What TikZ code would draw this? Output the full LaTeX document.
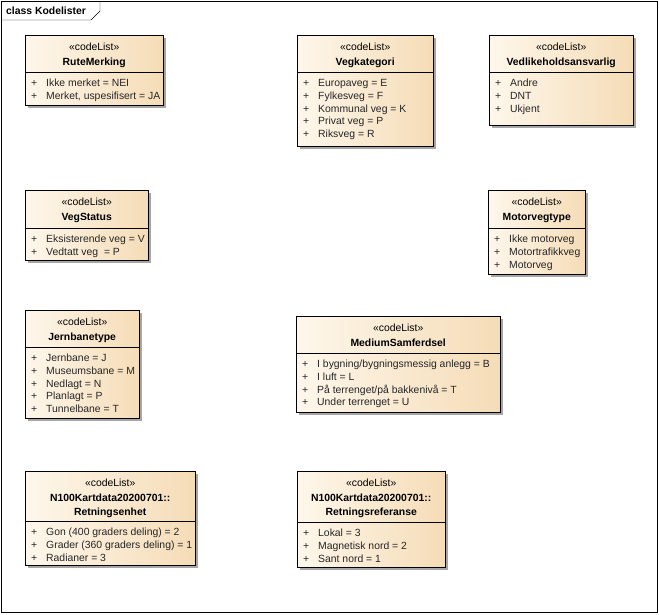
\documentclass[tikz,border=0pt]{standalone}
\usepackage{fontspec}
\setmainfont{Liberation Sans}
\usetikzlibrary{positioning,shadows}

\definecolor{clsleft}{RGB}{254,247,235}
\definecolor{clsright}{RGB}{245,220,183}
\newcommand{\plusattr}{\strut\makebox[15pt][l]{+}}

\tikzset{
  cbox/.style={rectangle, draw=black, anchor=north west, inner sep=0,
    left color=clsleft, right color=clsright,
    drop shadow={shadow xshift=3pt, shadow yshift=-3pt, fill=black!35, opacity=1}},
  chead/.style={inner sep=0, align=center, font=\fontsize{10.4}{14.3}\selectfont},
  cattr/.style={inner sep=0, align=left, text=black!85, font=\fontsize{10.4}{12.6}\selectfont}
}

\begin{document}
\begin{tikzpicture}[x=1pt, y=-1pt]
  \useasboundingbox (0,0) rectangle (659,614);
  % frame
  \draw (1.5,1.5) rectangle (657.5,612.5);
  \draw (1.5,20) -- (91,20) -- (100,11) -- (100,1.5);
  \node[anchor=west, inner sep=0, font=\fontsize{10.4}{12}\selectfont\bfseries] (title) at (6,11) {class Kodelister};

  % RuteMerking
  \node[cbox, minimum width=138, minimum height=70] (rute) at (25,35) {};
  \coordinate (rute-s) at (25,72);
  \draw (rute-s) -- (rute-s -| rute.east);
  \node[chead, below=5.6pt of rute.north] (rute-h) {\strut«codeList»\\\textbf{RuteMerking}};
  \node[cattr, below right=5.9pt and 6pt of rute-s] (rute-a) {\plusattr Ikke merket = NEI\\\plusattr Merket, uspesifisert = JA};

  % Vegkategori
  \node[cbox, minimum width=136, minimum height=111] (vegkat) at (297,35) {};
  \coordinate (vegkat-s) at (297,72);
  \draw (vegkat-s) -- (vegkat-s -| vegkat.east);
  \node[chead, below=5.6pt of vegkat.north] (vegkat-h) {\strut«codeList»\\\textbf{Vegkategori}};
  \node[cattr, below right=5.9pt and 6pt of vegkat-s] (vegkat-a) {\plusattr Europaveg = E\\\plusattr Fylkesveg = F\\\plusattr Kommunal veg = K\\\plusattr Privat veg = P\\\plusattr Riksveg = R};

  % Vedlikeholdsansvarlig
  \node[cbox, minimum width=144, minimum height=90] (vedlik) at (489,35) {};
  \coordinate (vedlik-s) at (489,72);
  \draw (vedlik-s) -- (vedlik-s -| vedlik.east);
  \node[chead, below=5.6pt of vedlik.north] (vedlik-h) {\strut«codeList»\\\textbf{Vedlikeholdsansvarlig}};
  \node[cattr, below right=5.9pt and 6pt of vedlik-s] (vedlik-a) {\plusattr Andre\\\plusattr DNT\\\plusattr Ukjent};

  % VegStatus
  \node[cbox, minimum width=123, minimum height=70] (vegstatus) at (25,190) {};
  \coordinate (vegstatus-s) at (25,228);
  \draw (vegstatus-s) -- (vegstatus-s -| vegstatus.east);
  \node[chead, below=5.6pt of vegstatus.north] (vegstatus-h) {\strut«codeList»\\\textbf{VegStatus}};
  \node[cattr, below right=5.9pt and 6pt of vegstatus-s] (vegstatus-a) {\plusattr Eksisterende veg = V\\\plusattr Vedtatt veg\ \ = P};

  % Motorvegtype
  \node[cbox, minimum width=97, minimum height=84] (motorveg) at (488,190) {};
  \coordinate (motorveg-s) at (488,228);
  \draw (motorveg-s) -- (motorveg-s -| motorveg.east);
  \node[chead, below=5.6pt of motorveg.north] (motorveg-h) {\strut«codeList»\\\textbf{Motorvegtype}};
  \node[cattr, below right=5.9pt and 6pt of motorveg-s] (motorveg-a) {\plusattr Ikke motorveg\\\plusattr Motortrafikkveg\\\plusattr Motorveg};

  % Jernbanetype
  \node[cbox, minimum width=114, minimum height=108] (jernbane) at (25,310) {};
  \coordinate (jernbane-s) at (25,347);
  \draw (jernbane-s) -- (jernbane-s -| jernbane.east);
  \node[chead, below=5.6pt of jernbane.north] (jernbane-h) {\strut«codeList»\\\textbf{Jernbanetype}};
  \node[cattr, below right=5.9pt and 6pt of jernbane-s] (jernbane-a) {\plusattr Jernbane = J\\\plusattr Museumsbane = M\\\plusattr Nedlagt = N\\\plusattr Planlagt = P\\\plusattr Tunnelbane = T};

  % MediumSamferdsel
  \node[cbox, minimum width=204, minimum height=96] (medium) at (296,316) {};
  \coordinate (medium-s) at (296,353);
  \draw (medium-s) -- (medium-s -| medium.east);
  \node[chead, below=5.6pt of medium.north] (medium-h) {\strut«codeList»\\\textbf{MediumSamferdsel}};
  \node[cattr, below right=5.9pt and 6pt of medium-s] (medium-a) {\plusattr I bygning/bygningsmessig anlegg = B\\\plusattr I luft = L\\\plusattr På terrenget/på bakkenivå = T\\\plusattr Under terrenget = U};

  % Retningsenhet
  \node[cbox, minimum width=170, minimum height=94] (renhet) at (25,471) {};
  \coordinate (renhet-s) at (25,521);
  \draw (renhet-s) -- (renhet-s -| renhet.east);
  \node[chead, below=5.6pt of renhet.north] (renhet-h) {\strut«codeList»\\\textbf{N100Kartdata20200701::}\\\textbf{Retningsenhet}};
  \node[cattr, below right=5.9pt and 6pt of renhet-s] (renhet-a) {\plusattr Gon (400 graders deling) = 2\\\plusattr Grader (360 graders deling) = 1\\\plusattr Radianer = 3};

  % Retningsreferanse
  \node[cbox, minimum width=148, minimum height=96] (rref) at (297,471) {};
  \coordinate (rref-s) at (297,522);
  \draw (rref-s) -- (rref-s -| rref.east);
  \node[chead, below=5.6pt of rref.north] (rref-h) {\strut«codeList»\\\textbf{N100Kartdata20200701::}\\\textbf{Retningsreferanse}};
  \node[cattr, below right=5.9pt and 6pt of rref-s] (rref-a) {\plusattr Lokal = 3\\\plusattr Magnetisk nord = 2\\\plusattr Sant nord = 1};
\end{tikzpicture}
\end{document}
